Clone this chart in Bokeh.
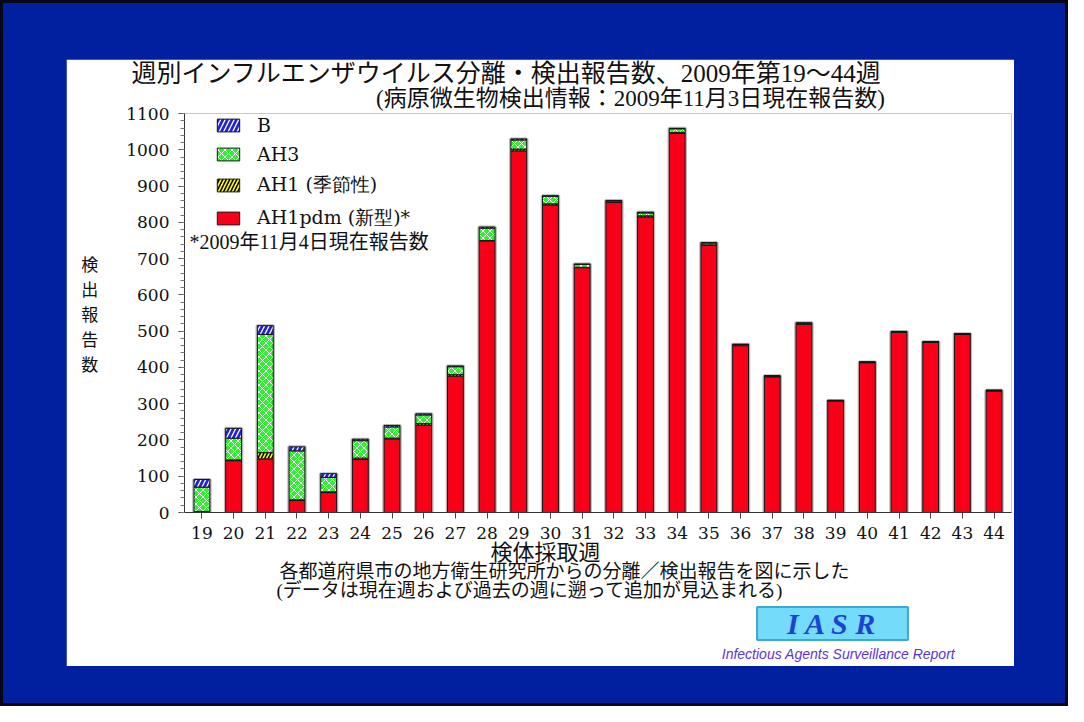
from bokeh.plotting import figure
from bokeh.layouts import column
from bokeh.models import (ColumnDataSource, Range1d, FixedTicker, Label,
                          Legend, LegendItem)
from bokeh.embed import file_html
from bokeh.resources import INLINE

# ---------------- data ----------------
weeks = list(range(19, 45))
ah1pdm = [3, 143, 148, 33, 55, 146, 203, 241, 376, 748, 997, 848, 675, 855, 815, 1045, 737,
          460, 374, 519, 308, 413, 497, 469, 491, 335]
ah1 = [0, 2, 17, 2, 2, 4, 2, 4, 4, 2, 5, 3, 1, 1, 3, 3, 1, 1, 1, 1, 0, 1, 1, 1, 1, 1]
ah3 = [67, 60, 326, 135, 40, 48, 31, 24, 22, 34, 25, 21, 8, 3, 8, 10, 5, 2, 2, 2, 1, 1, 1, 1, 1, 1]
flu_b = [21, 27, 24, 11, 10, 4, 4, 3, 2, 3, 3, 1, 1, 1, 2, 1, 1, 1, 0, 1, 0, 0, 0, 0, 0, 0]
series_names = ["AH1pdm", "AH1", "AH3", "B"]
legend_labels = ["AH1pdm (新型)*", "AH1 (季節性)", "AH3", "B"]
y_ticks = list(range(0, 1101, 100))
y_minor = list(range(0, 1101, 20))

title1 = "週別インフルエンザウイルス分離・検出報告数、2009年第19〜44週"
title2 = "(病原微生物検出情報：2009年11月3日現在報告数)"
ylabel = "検\n出\n報\n告\n数"
xlabel = "検体採取週"
note_star = "*2009年11月4日現在報告数"
note1 = "各都道府県市の地方衛生研究所からの分離／検出報告を図に示した"
note2 = "(データは現在週および過去の週に遡って追加が見込まれる)"
logo_text = "I A S R"
logo_sub = "Infectious Agents Surveillance Report"

totals = [a + b + c + d for a, b, c, d in zip(ah1pdm, ah1, ah3, flu_b)]

BLUE_BG = "#0020a0"
CJK = "Noto Sans CJK JP"
MIXED = "Liberation Serif, Noto Sans CJK JP"
SERIF = "DejaVu Serif"
TXT = "#111111"

# the figure is the white panel; the blue surround is the wrapping column
PW, PH = 948, 607

source = ColumnDataSource(dict(week=weeks, AH1pdm=ah1pdm, AH1=ah1, AH3=ah3, B=flu_b, total=totals))

p = figure(width=PW, height=PH, output_backend="svg", toolbar_location=None,
           x_range=Range1d(18.45, 44.55), y_range=Range1d(0, 1100),
           min_border_left=118, min_border_right=3, min_border_top=54, min_border_bottom=154,
           background_fill_color="white", border_fill_color="white",
           outline_line_color=None, title=None)
p.margin = (56, 51, 37, 63)

# soft grey shadow around the stacked bars
p.vbar(x="week", top="total", width=0.52, source=source, fill_alpha=0,
       line_color="#8a8a8a", line_width=3, line_alpha=0.6)

renderers = p.vbar_stack(series_names, x="week", width=0.5, source=source,
                         fill_color=["#f80018", "#ffff00", "#33ee33", "#2222d6"],
                         hatch_pattern=[" ", "/", "x", "/"],
                         hatch_color=["white", "black", "white", "white"],
                         hatch_scale=[6, 7, 7, 9], hatch_weight=[1, 1.6, 1.0, 1.3],
                         line_color="#151515", line_width=1)

legend = Legend(items=[LegendItem(label=lab, renderers=[r])
                       for lab, r in reversed(list(zip(legend_labels, renderers)))],
                location=(30, 281), orientation="vertical",
                glyph_width=28, glyph_height=16, label_standoff=15, spacing=7,
                padding=0, margin=0, background_fill_alpha=0, border_line_alpha=0,
                label_text_font=SERIF, label_text_font_size="19px", label_text_color=TXT)
p.add_layout(legend)

# axes
p.xgrid.grid_line_color = None
p.ygrid.grid_line_color = None

p.yaxis.ticker = FixedTicker(ticks=y_ticks, minor_ticks=y_minor)
p.yaxis.axis_line_color = "#333333"
p.yaxis.major_tick_line_color = "#444444"
p.yaxis.minor_tick_line_color = "#777777"
p.yaxis.major_tick_in = 0
p.yaxis.major_tick_out = 6
p.yaxis.minor_tick_in = 0
p.yaxis.minor_tick_out = 4
p.yaxis.major_label_standoff = 9
p.yaxis.major_label_text_font = SERIF
p.yaxis.major_label_text_font_size = "17px"
p.yaxis.major_label_text_color = TXT
p.yaxis.axis_label = ylabel
p.yaxis.axis_label_orientation = "horizontal"
p.yaxis.axis_label_standoff = 25
p.yaxis.axis_label_text_font = CJK
p.yaxis.axis_label_text_font_size = "17px"
p.yaxis.axis_label_text_font_style = "normal"
p.yaxis.axis_label_text_color = TXT
p.yaxis.axis_label_text_line_height = 1.0

p.xaxis.ticker = FixedTicker(ticks=weeks)
p.xaxis.axis_line_color = "#333333"
p.xaxis.major_tick_line_color = "#444444"
p.xaxis.minor_tick_line_color = None
p.xaxis.major_tick_in = 0
p.xaxis.major_tick_out = 6
p.xaxis.major_label_standoff = 8
p.xaxis.major_label_text_font = SERIF
p.xaxis.major_label_text_font_size = "17px"
p.xaxis.major_label_text_color = TXT


def add_text(text, x, y, size, side, font=MIXED, align="center", color=TXT, style="normal", **kw):
    lab = Label(x=x, y=y, x_units="canvas", y_units="canvas", text=text,
                text_font=font, text_font_size=size, text_align=align, text_baseline="middle",
                text_color=color, text_font_style=style, **kw)
    p.add_layout(lab, side)
    return lab


# positions are canvas pixels of the white panel (y from the top)
add_text(title1, 440, 14, "25px", "above")
add_text(title2, 564, 39, "23px", "above")
add_text(xlabel, 479, 493, "22px", "below")
add_text(note1, 213, 512, "19px", "below", align="left")
add_text(note2, 210, 531, "19px", "below", align="left")
logo = add_text(logo_text, 766, 564, "30px", "below", font="Liberation Serif",
                color="#1d43d6", style="bold italic",
                background_fill_color="#74dcfa", border_line_color="#3fa6d8", border_line_width=2)
try:
    logo.padding = dict(x=30, y=0)
except Exception:
    try:
        logo.padding = 4
    except Exception:
        pass
add_text(logo_sub, 772, 594, "14px", "below", font="Liberation Sans", color="#5b33e6", style="italic")

# footnote inside the plot area
star = Label(x=123, y=182, x_units="canvas", y_units="canvas", text=note_star,
             text_font=MIXED, text_font_size="20px", text_align="left", text_baseline="middle",
             text_color=TXT)
p.add_layout(star)

root = column(p, styles={"background-color": BLUE_BG, "border": "3px solid #07071a"})

open("out.html", "w").write(file_html(root, INLINE))
